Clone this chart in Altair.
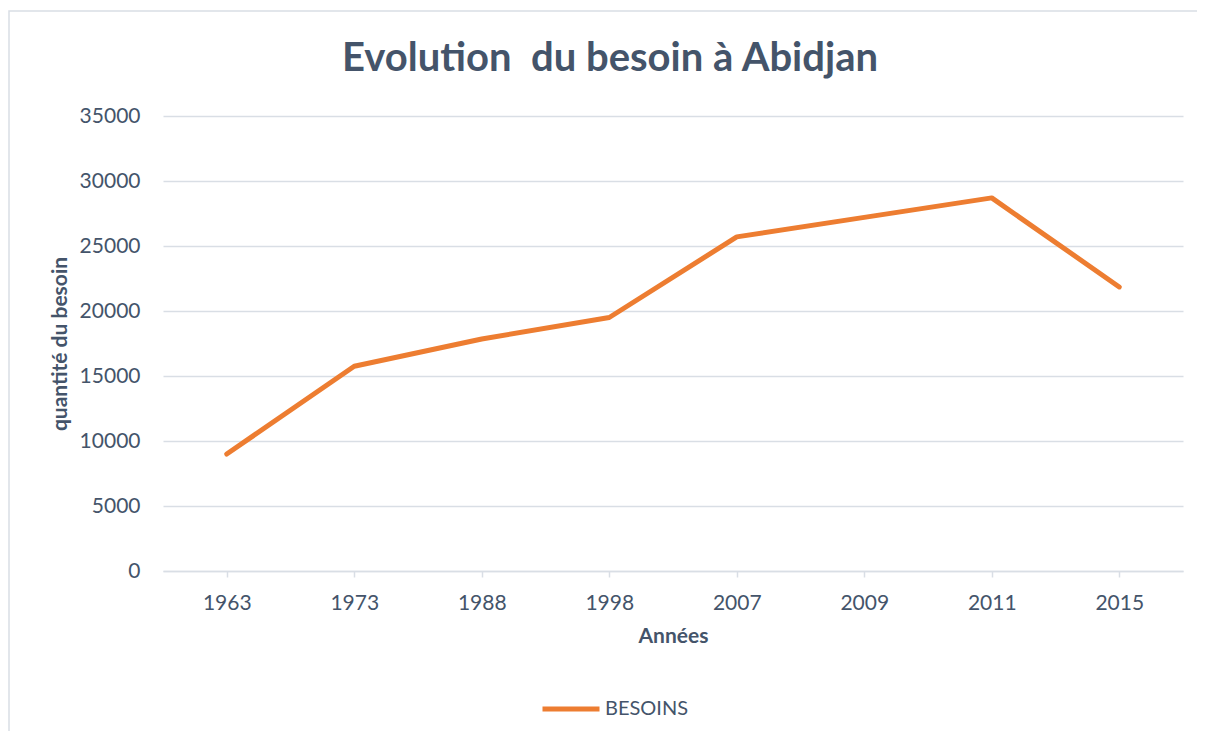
import altair as alt
import pandas as pd

annees = ["1963", "1973", "1988", "1998", "2007", "2009", "2011", "2015"]
besoins = [9000, 15750, 17850, 19500, 25700, 27200, 28700, 21850]
serie = ["BESOINS"] * len(annees)

df = pd.DataFrame({"Années": annees, "Besoin": besoins, "Série": serie})

FONT = "Lato"
TXT = "#44546A"
GRID = "#D9DEE5"

W, H = 1020, 455

line = alt.Chart(df).mark_line(strokeWidth=5, strokeCap="round", strokeJoin="round").encode(
    x=alt.X("Années:N", sort=annees,
            scale=alt.Scale(paddingInner=0, paddingOuter=0),
            axis=alt.Axis(title="Années", labelAngle=0, bandPosition=0,
                          ticks=True, tickSize=6, tickColor=GRID, domainColor=GRID,
                          domainWidth=1.5, tickWidth=1.5, grid=False,
                          labelFontSize=21, labelColor=TXT, labelFont=FONT,
                          labelPadding=15,
                          titleFontSize=21, titleFontWeight="bold", titleColor=TXT,
                          titleFont=FONT, titlePadding=12)),
    y=alt.Y("Besoin:Q", scale=alt.Scale(domain=[0, 35000], nice=False),
            axis=alt.Axis(title="quantité du besoin", values=list(range(0, 35001, 5000)),
                          format="d", domain=False, ticks=False, grid=True,
                          gridColor=GRID, gridWidth=1.5,
                          labelFontSize=21, labelColor=TXT, labelFont=FONT,
                          labelPadding=23,
                          titleFontSize=21, titleFontWeight="bold", titleColor=TXT,
                          titleFont=FONT, titleX=-103, titleY=H / 2,
                          titleAngle=270, titleAlign="center", titleBaseline="middle")),
    color=alt.Color("Série:N", scale=alt.Scale(domain=["BESOINS"], range=["#ED7D31"]),
                    legend=alt.Legend(title=None, orient="none", legendX=377, legendY=562,
                                      symbolType="stroke", symbolSize=3249,
                                      symbolStrokeWidth=5, labelFontSize=20,
                                      labelColor=TXT, labelFont=FONT, labelOffset=3)),
)

frame = alt.Chart(alt.Data(values=[{}])).mark_rect(fill=None, stroke="#D9DEE5", strokeWidth=1.5).encode(
    x=alt.value(-154), y=alt.value(-105), x2=alt.value(1200), y2=alt.value(800)
)

chart = alt.layer(frame, line).properties(
    width=W, height=H,
    title=alt.TitleParams("Evolution \u00a0du besoin à Abidjan", fontSize=40, fontWeight="bold",
                          color=TXT, font=FONT, anchor="middle", dx=-63, dy=101, offset=0,
                          baseline="alphabetic", frame="group"),
    autosize=alt.AutoSizeParams(type="none"),
    padding={"left": 155, "top": 108, "right": 14, "bottom": 160},
).configure_view(stroke=None)

chart.save("out.html", embed_options={"renderer": "svg", "actions": False})
